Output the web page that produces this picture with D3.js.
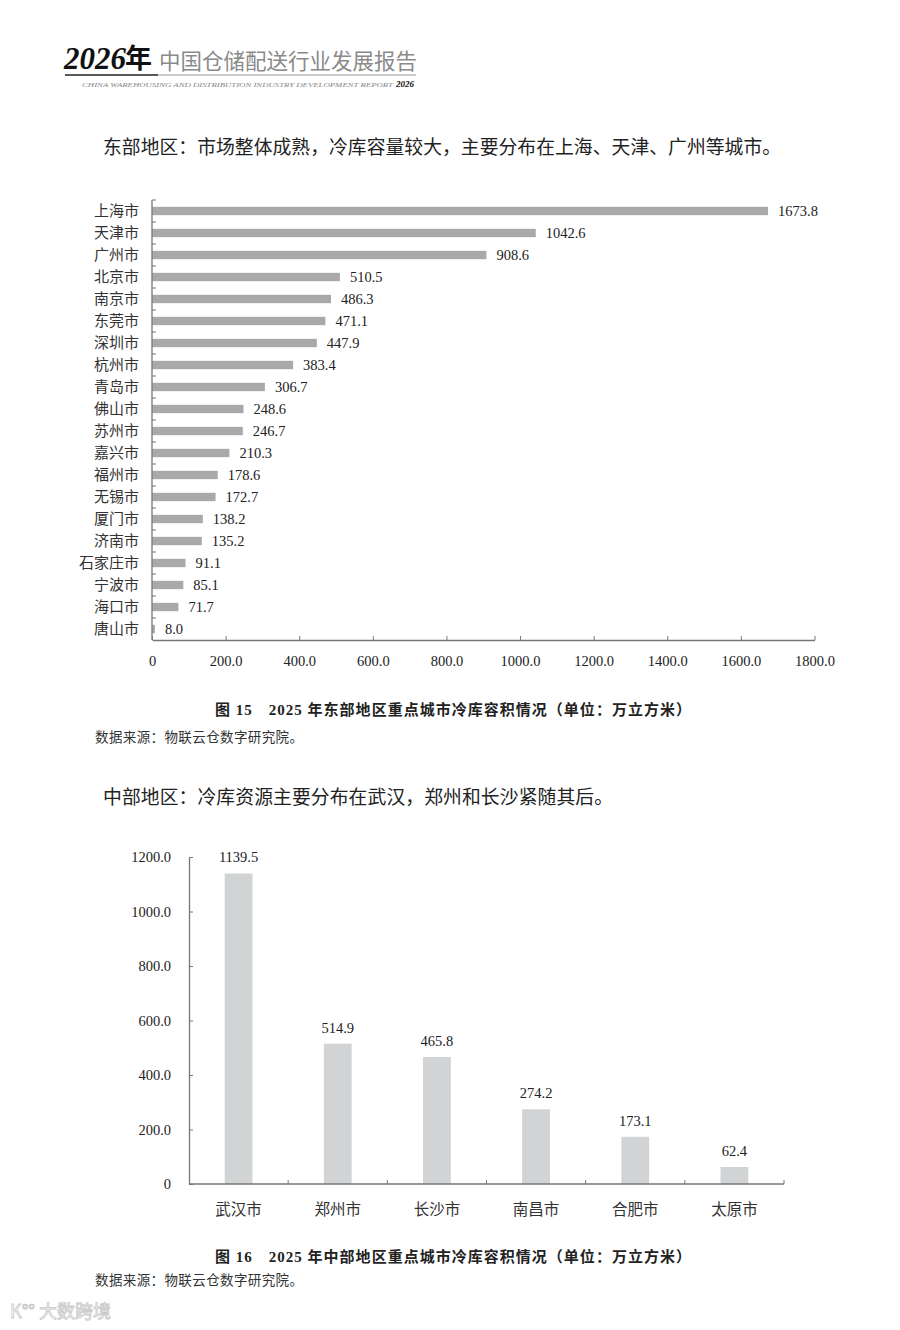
<!DOCTYPE html>
<html>
<head>
<meta charset="utf-8">
<script src="https://cdn.jsdelivr.net/npm/d3@7"></script>
<style>
  body { margin: 0; background: #fff; }
  svg text { font-family: "Liberation Serif", "Noto Sans CJK SC", serif; }
</style>
</head>
<body>
<div id="graphic"></div>
<script>
// East region cities and cold storage volume (10k m3)
var eastCities = ["上海市", "天津市", "广州市", "北京市", "南京市", "东莞市", "深圳市", "杭州市", "青岛市", "佛山市",
                  "苏州市", "嘉兴市", "福州市", "无锡市", "厦门市", "济南市", "石家庄市", "宁波市", "海口市", "唐山市"];
var eastValues = [1673.8, 1042.6, 908.6, 510.5, 486.3, 471.1, 447.9, 383.4, 306.7, 248.6,
                  246.7, 210.3, 178.6, 172.7, 138.2, 135.2, 91.1, 85.1, 71.7, 8.0];
var eastTicks = [0, 200, 400, 600, 800, 1000, 1200, 1400, 1600, 1800];

// Central region
var midCities = ["武汉市", "郑州市", "长沙市", "南昌市", "合肥市", "太原市"];
var midValues = [1139.5, 514.9, 465.8, 274.2, 173.1, 62.4];
var midTicks = [0, 200, 400, 600, 800, 1000, 1200];

var svgWidth = 900;
var svgHeight = 1330;
var textColor = "#222";
var axisColor = "#777";
var cjk = "'Noto Sans CJK SC', sans-serif";

var svg = d3.select("#graphic")
    .append("svg")
    .attr("width", svgWidth)
    .attr("height", svgHeight);

// ---------- page header ----------
var header = svg.append("g");
header.append("text")
    .attr("x", 64).attr("y", 69)
    .style("font-size", "31px").style("font-weight", "bold").style("font-style", "italic")
    .attr("fill", "#111")
    .text("2026");
header.append("text")
    .attr("x", 125).attr("y", 68)
    .style("font-size", "27px").style("font-weight", "bold")
    .style("font-family", cjk)
    .attr("fill", "#111")
    .text("年");
header.append("text")
    .attr("x", 159).attr("y", 69)
    .style("font-size", "21.5px")
    .style("font-family", cjk)
    .attr("fill", "#8a8a8a")
    .text("中国仓储配送行业发展报告");
header.append("line")
    .attr("x1", 65).attr("x2", 158).attr("y1", 75).attr("y2", 75)
    .attr("stroke", "#222").attr("stroke-width", 1.6);
header.append("line")
    .attr("x1", 158).attr("x2", 416).attr("y1", 75).attr("y2", 75)
    .attr("stroke", "#999").attr("stroke-width", 1);
header.append("text")
    .attr("x", 82).attr("y", 87)
    .style("font-size", "7px").style("font-style", "italic")
    .attr("fill", "#888")
    .attr("textLength", 311).attr("lengthAdjust", "spacingAndGlyphs")
    .text("CHINA WAREHOUSING AND DISTRIBUTION INDUSTRY DEVELOPMENT REPORT");
header.append("text")
    .attr("x", 396).attr("y", 87)
    .style("font-size", "9px").style("font-style", "italic").style("font-weight", "bold")
    .attr("fill", "#111")
    .text("2026");

// ---------- paragraph texts ----------
function bodyText(x, y, size, str, weight, len) {
    var t = svg.append("text")
        .attr("x", x).attr("y", y)
        .style("font-size", size + "px")
        .style("font-family", "'Liberation Serif', " + cjk)
        .style("font-weight", weight || "normal")
        .attr("fill", textColor)
        .text(str);
    if (len) t.attr("textLength", len).attr("lengthAdjust", "spacing");
    return t;
}

bodyText(103, 154, 18.8, "东部地区：市场整体成熟，冷库容量较大，主要分布在上海、天津、广州等城市。", null, 678);

// ---------- chart 1: horizontal bars ----------
var c1 = { left: 152, right: 814.5, top: 200, bottom: 640 };

var x1 = d3.scaleLinear().domain([0, 1800]).range([c1.left, c1.right]);
var y1 = d3.scaleBand().domain(eastCities).range([c1.top, c1.bottom]).paddingInner(0.62).paddingOuter(0.31);

var chart1 = svg.append("g");

chart1.selectAll("rect")
    .data(eastValues)
    .enter()
    .append("rect")
    .attr("x", x1(0))
    .attr("y", function(d, i) { return y1(eastCities[i]); })
    .attr("width", function(d) { return x1(d) - x1(0); })
    .attr("height", y1.bandwidth())
    .attr("fill", "#a9a9a9");

chart1.selectAll(".val")
    .data(eastValues)
    .enter()
    .append("text")
    .attr("class", "val")
    .attr("x", function(d) { return x1(d) + 10; })
    .attr("y", function(d, i) { return y1(eastCities[i]) + y1.bandwidth() / 2 + 5; })
    .style("font-size", "14.5px")
    .attr("fill", textColor)
    .text(function(d) { return d.toFixed(1); });

// category labels
chart1.selectAll(".cat")
    .data(eastCities)
    .enter()
    .append("text")
    .attr("class", "cat")
    .attr("x", 139)
    .attr("y", function(d) { return y1(d) + y1.bandwidth() / 2 + 5; })
    .attr("text-anchor", "end")
    .style("font-size", "15px")
    .style("font-family", cjk)
    .attr("fill", "#333")
    .text(function(d) { return d; });

// y axis line with inward ticks on band boundaries
var bandStep = y1.step();
chart1.append("line")
    .attr("x1", c1.left).attr("x2", c1.left)
    .attr("y1", c1.top).attr("y2", c1.bottom)
    .attr("stroke", axisColor).attr("stroke-width", 1.3);
chart1.selectAll(".ytick")
    .data(d3.range(eastCities.length))
    .enter()
    .append("line")
    .attr("class", "ytick")
    .attr("x1", c1.left).attr("x2", c1.left + 4)
    .attr("y1", function(i) { return c1.top + i * bandStep; })
    .attr("y2", function(i) { return c1.top + i * bandStep; })
    .attr("stroke", axisColor).attr("stroke-width", 1);

// x axis
var xAxis1 = d3.axisBottom(x1)
    .tickValues(eastTicks)
    .tickSizeInner(-4)
    .tickSizeOuter(0)
    .tickPadding(16)
    .tickFormat(function(d) { return d === 0 ? "0" : d.toFixed(1); });

var gx1 = chart1.append("g")
    .attr("transform", "translate(0," + c1.bottom + ")")
    .call(xAxis1);
gx1.select(".domain").attr("stroke", axisColor).attr("stroke-width", 1.3);
gx1.selectAll(".tick line").attr("stroke", axisColor);
gx1.selectAll(".tick text")
    .style("font-size", "14.5px")
    .style("font-family", "'Liberation Serif', serif")
    .attr("fill", textColor);

// caption and source
bodyText(215, 715, 15, "图 15　2025 年东部地区重点城市冷库容积情况（单位：万立方米）", "bold", 476);
bodyText(95, 742, 13.5, "数据来源：物联云仓数字研究院。", null, 208).attr("fill", "#333");

bodyText(103, 804, 18.8, "中部地区：冷库资源主要分布在武汉，郑州和长沙紧随其后。", null, 510);

// ---------- chart 2: vertical bars ----------
var c2 = { left: 189, right: 784, top: 857, bottom: 1184 };

var x2 = d3.scaleBand().domain(midCities).range([c2.left, c2.right]).paddingInner(0.72).paddingOuter(0.36);
var y2 = d3.scaleLinear().domain([0, 1200]).range([c2.bottom, c2.top]);

var chart2 = svg.append("g");

chart2.selectAll("rect")
    .data(midValues)
    .enter()
    .append("rect")
    .attr("x", function(d, i) { return x2(midCities[i]); })
    .attr("y", function(d) { return y2(d); })
    .attr("width", x2.bandwidth())
    .attr("height", function(d) { return y2(0) - y2(d); })
    .attr("fill", "#d1d3d4");

chart2.selectAll(".val")
    .data(midValues)
    .enter()
    .append("text")
    .attr("class", "val")
    .attr("x", function(d, i) { return x2(midCities[i]) + x2.bandwidth() / 2; })
    .attr("y", function(d) { return y2(d) - 11; })
    .attr("text-anchor", "middle")
    .style("font-size", "14.5px")
    .attr("fill", textColor)
    .text(function(d) { return d.toFixed(1); });

// y axis
var yAxis2 = d3.axisLeft(y2)
    .tickValues(midTicks)
    .tickSizeInner(-4)
    .tickSizeOuter(0)
    .tickPadding(18)
    .tickFormat(function(d) { return d === 0 ? "0" : d.toFixed(1); });

var gy2 = chart2.append("g")
    .attr("transform", "translate(" + c2.left + ",0)")
    .call(yAxis2);
gy2.select(".domain").attr("stroke", axisColor).attr("stroke-width", 1.3);
gy2.selectAll(".tick line").attr("stroke", axisColor);
gy2.selectAll(".tick text")
    .style("font-size", "14.5px")
    .style("font-family", "'Liberation Serif', serif")
    .attr("fill", textColor);

// x axis line with upward ticks on band boundaries
var step2 = x2.step();
chart2.append("line")
    .attr("x1", c2.left).attr("x2", c2.right)
    .attr("y1", c2.bottom).attr("y2", c2.bottom)
    .attr("stroke", axisColor).attr("stroke-width", 1.3);
chart2.selectAll(".xtick")
    .data(d3.range(1, midCities.length + 1))
    .enter()
    .append("line")
    .attr("class", "xtick")
    .attr("x1", function(i) { return c2.left + i * step2; })
    .attr("x2", function(i) { return c2.left + i * step2; })
    .attr("y1", c2.bottom).attr("y2", c2.bottom - 4)
    .attr("stroke", axisColor).attr("stroke-width", 1);

chart2.selectAll(".cat")
    .data(midCities)
    .enter()
    .append("text")
    .attr("class", "cat")
    .attr("x", function(d) { return x2(d) + x2.bandwidth() / 2; })
    .attr("y", 1215)
    .attr("text-anchor", "middle")
    .style("font-size", "15.5px")
    .style("font-family", cjk)
    .attr("fill", "#333")
    .text(function(d) { return d; });

bodyText(215, 1262, 15, "图 16　2025 年中部地区重点城市冷库容积情况（单位：万立方米）", "bold", 476);
bodyText(95, 1285, 13.5, "数据来源：物联云仓数字研究院。", null, 208).attr("fill", "#333");

// faint watermark
svg.append("text")
    .attr("x", 10).attr("y", 1318)
    .style("font-size", "18px")
    .style("font-family", cjk)
    .attr("fill", "#fff")
    .attr("stroke", "#c8c8c8")
    .attr("stroke-width", 0.8)
    .text("K°° 大数跨境");
</script>
</body>
</html>
